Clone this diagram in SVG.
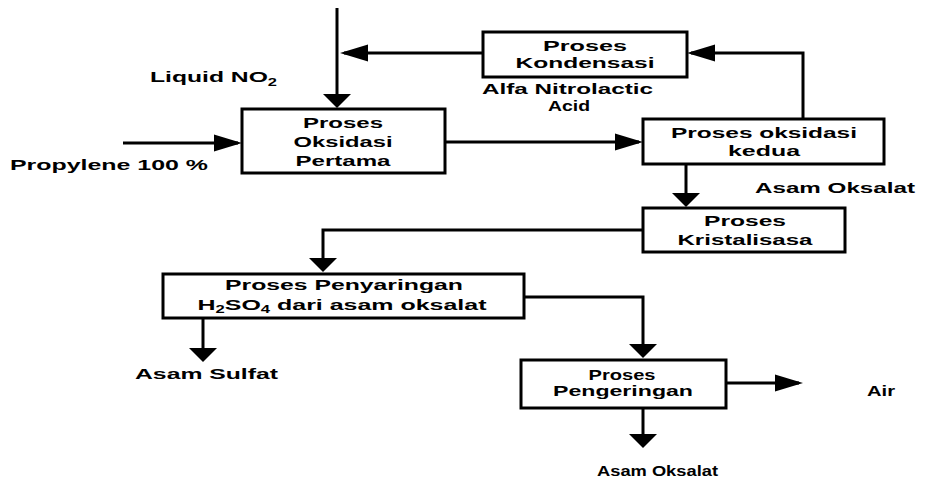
<svg xmlns="http://www.w3.org/2000/svg" width="926" height="482" viewBox="0 0 926 482">
<style>
.box{fill:#fff;stroke:#000;stroke-width:3}
.ln{fill:none;stroke:#000;stroke-width:3}
text{font-family:"Liberation Sans",Arial,Helvetica,sans-serif;font-weight:bold;font-size:15px;fill:#000}
.c{text-anchor:middle}
.sub{font-size:10px}
.sm{font-size:14px}
</style>
<defs>
<marker id="ah" markerUnits="userSpaceOnUse" markerWidth="28" markerHeight="17" refX="24" refY="8.5" orient="auto" overflow="visible">
<path d="M0,0 L28,8.5 L0,17 z" fill="#000"/>
</marker>
<marker id="av" markerUnits="userSpaceOnUse" markerWidth="14" markerHeight="28" refX="11" refY="14" orient="auto" overflow="visible">
<path d="M0,0 L14,14 L0,28 z" fill="#000"/>
</marker>
</defs>
<g id="connectors">
<path class="ln" d="M337,8 V105" marker-end="url(#av)"/>
<path class="ln" d="M483,53 H344" marker-end="url(#ah)"/>
<path class="ln" d="M123,143 H238" marker-end="url(#ah)"/>
<path class="ln" d="M445,142 H639" marker-end="url(#ah)"/>
<path class="ln" d="M803,119 V53 H691" marker-end="url(#ah)"/>
<path class="ln" d="M686,164 V204" marker-end="url(#av)"/>
<path class="ln" d="M643,230 H323 V269" marker-end="url(#av)"/>
<path class="ln" d="M524,297 H643 V355" marker-end="url(#av)"/>
<path class="ln" d="M203,318 V359" marker-end="url(#av)"/>
<path class="ln" d="M726,383 H799" marker-end="url(#ah)"/>
<path class="ln" d="M643,408 V445" marker-end="url(#av)"/>
</g>
<g id="oksidasi-pertama">
<rect class="box" x="242" y="109" width="203" height="64"/>
<text class="c" x="343" y="128" textLength="80" lengthAdjust="spacingAndGlyphs">Proses</text>
<text class="c" x="343" y="147" textLength="99" lengthAdjust="spacingAndGlyphs">Oksidasi</text>
<text class="c" x="343" y="166" textLength="95" lengthAdjust="spacingAndGlyphs">Pertama</text>
</g>
<g id="kondensasi">
<rect class="box" x="483" y="32" width="204" height="45"/>
<text class="c" x="585" y="51" textLength="84" lengthAdjust="spacingAndGlyphs">Proses</text>
<text class="c" x="585" y="68" textLength="139" lengthAdjust="spacingAndGlyphs">Kondensasi</text>
</g>
<g id="oksidasi-kedua">
<rect class="box" x="643" y="119" width="241" height="45"/>
<text class="c" x="764" y="138" textLength="186" lengthAdjust="spacingAndGlyphs">Proses oksidasi</text>
<text class="c" x="764" y="156" textLength="72" lengthAdjust="spacingAndGlyphs">kedua</text>
</g>
<g id="kristalisasa">
<rect class="box" x="643" y="208" width="202" height="44"/>
<text class="c" x="745" y="226" textLength="82" lengthAdjust="spacingAndGlyphs">Proses</text>
<text class="c" x="745" y="245" textLength="135" lengthAdjust="spacingAndGlyphs">Kristalisasa</text>
</g>
<g id="penyaringan">
<rect class="box" x="163" y="274" width="361" height="44"/>
<text class="c" x="344" y="290" textLength="238" lengthAdjust="spacingAndGlyphs">Proses Penyaringan</text>
<text class="c" x="342" y="310" textLength="289" lengthAdjust="spacingAndGlyphs">H<tspan class="sub" dy="3">2</tspan><tspan dy="-3">SO</tspan><tspan class="sub" dy="3">4</tspan><tspan dy="-3"> dari asam oksalat</tspan></text>
</g>
<g id="pengeringan">
<rect class="box" x="521" y="360" width="205" height="48"/>
<text class="c" x="622" y="380" textLength="67" lengthAdjust="spacingAndGlyphs">Proses</text>
<text class="c" x="623" y="396" textLength="140" lengthAdjust="spacingAndGlyphs">Pengeringan</text>
</g>
<g id="labels">
<text x="150" y="82" textLength="127" lengthAdjust="spacingAndGlyphs">Liquid NO<tspan class="sub" dy="4">2</tspan></text>
<text x="10" y="170" textLength="198" lengthAdjust="spacingAndGlyphs">Propylene 100 %</text>
<text class="sm" x="482" y="94" textLength="171" lengthAdjust="spacingAndGlyphs">Alfa Nitrolactic</text>
<text class="c sm" x="569" y="111" textLength="42" lengthAdjust="spacingAndGlyphs">Acid</text>
<text x="755" y="193" textLength="160" lengthAdjust="spacingAndGlyphs">Asam Oksalat</text>
<text x="135" y="379" textLength="143" lengthAdjust="spacingAndGlyphs">Asam Sulfat</text>
<text x="867" y="396" textLength="28" lengthAdjust="spacingAndGlyphs">Air</text>
<text x="597" y="476" textLength="121" lengthAdjust="spacingAndGlyphs">Asam Oksalat</text>
</g>
</svg>
